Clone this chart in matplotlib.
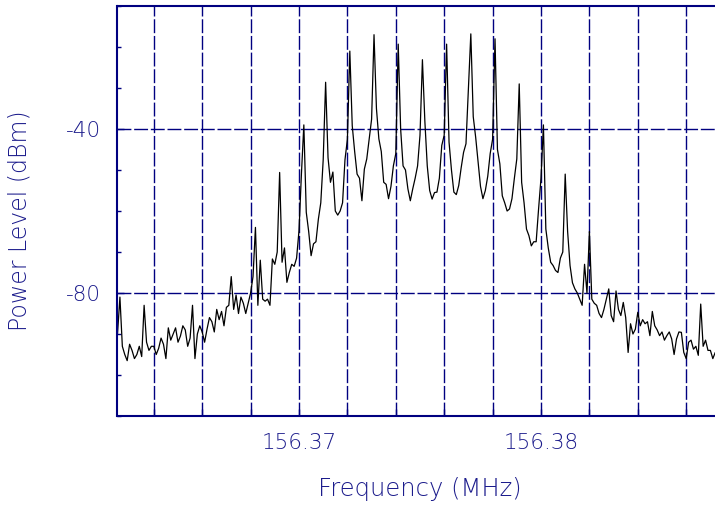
import numpy as np
import matplotlib
matplotlib.use("Agg")
import matplotlib.pyplot as plt
from matplotlib.ticker import MultipleLocator, FixedLocator, FixedFormatter

# sweep settings (MHz), 251 points across the span
f_start = 156.3625
f_stop = 156.3875
n_points = 251

# trace levels (dBm)
levels = [
    -90, -81, -93, -95, -96.5, -92.5, -94, -96, -95, -93,
    -95.5, -83, -92, -94, -93, -93, -95, -93.5, -91, -92.5,
    -96, -88.5, -91.5, -90, -88.5, -92, -90.5, -88, -89, -93,
    -91, -83, -96, -90, -88, -89.5, -92, -88.8, -86, -87,
    -89.5, -84, -86.5, -84.5, -88, -83.5, -83, -76, -84, -80.5,
    -85, -81, -82.5, -85, -82.5, -80, -76, -64, -83, -72,
    -81.5, -82, -81.5, -83, -71.7, -73, -70, -50.6, -72.5, -69,
    -77.4, -75, -73, -73.5, -71.5, -64.8, -51, -39, -60.3, -65,
    -70.9, -68, -67.5, -62, -58, -47.5, -28.6, -47, -53, -50.5,
    -60, -61, -60, -58, -47.5, -42.5, -21, -39.2, -45.5, -51,
    -52, -57.5, -49.8, -47.3, -42.5, -37.6, -17, -35, -42.4, -45.5,
    -53, -53.5, -57, -54, -49, -46, -19.3, -40, -49, -50,
    -54.6, -57.5, -54.6, -52, -49, -41.5, -23.1, -38, -49, -55,
    -57.1, -55.5, -55.4, -52, -44, -41.5, -19.3, -43.2, -50, -55.4,
    -56, -53.8, -49.5, -45.7, -43.6, -30.5, -16.8, -37, -42, -48,
    -54, -57, -55, -51.5, -46, -42.5, -18, -45, -48.5, -56.3,
    -58, -60, -59.5, -57, -52, -47.3, -29, -53, -58, -64.4,
    -66, -68.5, -67.5, -67.5, -59.5, -52, -39, -64.4, -69, -72.5,
    -73.3, -74.5, -75, -71.5, -70, -51, -65, -73.3, -77.5, -79,
    -80, -81.5, -83, -73, -80, -65, -81.5, -82.5, -83, -85,
    -86, -84, -81.5, -79, -85.5, -87, -79.5, -84, -85.5, -82.3,
    -86, -94.5, -87.5, -90, -88.8, -84.7, -88, -86.5, -87.5, -87,
    -90.4, -84.5, -88, -89, -90.4, -89.5, -91.5, -90.4, -89.5, -91.2,
    -95, -91.2, -89.5, -89.6, -94.5, -96, -92, -91.5, -93.7, -93,
    -95.2, -82.7, -93, -91.5, -94, -94, -96, -94.5, -95, -93,
    -96,
]

# axis ticks
x_grid = [156.364, 156.366, 156.368, 156.370, 156.372, 156.374,
          156.376, 156.378, 156.380, 156.382, 156.384, 156.386]
x_labels = ["", "", "", "156.37", "", "", "", "", "156.38", "", "", ""]
y_major = [-80, -40]
y_labels = ["-80", "-40"]

navy = "#000080"
text_col = "#1c1c8c"

plt.rcParams["font.family"] = ["DejaVu Sans"]
plt.rcParams["font.weight"] = "light"
plt.rcParams["axes.labelweight"] = "light"
plt.rcParams["axes.unicode_minus"] = False

freqs = np.linspace(f_start, f_stop, n_points)

fig = plt.figure(figsize=(7.15, 5.08), dpi=100)
ax = fig.add_axes([117.5 / 715, 92 / 508, 605 / 715, 410 / 508])

ax.plot(freqs, levels, color="black", lw=0.9)

ax.set_xlim(f_start, f_stop)
ax.set_ylim(-110, -10)

ax.xaxis.set_major_locator(FixedLocator(x_grid))
ax.xaxis.set_major_formatter(FixedFormatter(x_labels))
ax.yaxis.set_major_locator(FixedLocator(y_major))
ax.yaxis.set_major_formatter(FixedFormatter(y_labels))
ax.yaxis.set_minor_locator(MultipleLocator(10))

ax.tick_params(axis="both", which="both", direction="in", color=navy,
               labelcolor=text_col, labelsize=15.5, pad=12)
ax.tick_params(axis="both", which="major", length=5, width=1)
ax.tick_params(axis="y", which="minor", length=3, width=1)

ax.grid(True, which="major", color=navy, lw=1.0, linestyle=(0, (10, 2)))

for side in ["left", "bottom", "top", "right"]:
    ax.spines[side].set_color(navy)
    ax.spines[side].set_linewidth(1.5)

ax.set_xlabel("Frequency (MHz)", fontsize=17.5, color=text_col)
ax.set_ylabel("Power Level (dBm)", fontsize=17, color=text_col)
ax.xaxis.set_label_coords(0.5, -0.148)
ax.yaxis.set_label_coords(-0.142, 0.476)

fig.savefig("out.png", dpi=100)
plt.close(fig)
